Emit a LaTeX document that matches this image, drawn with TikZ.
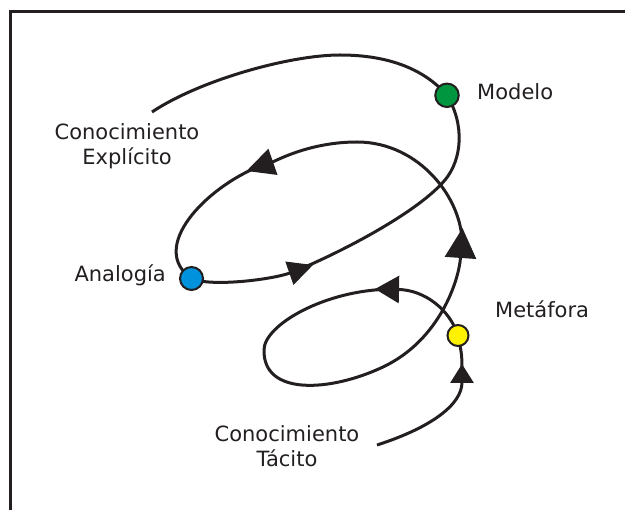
\documentclass[tikz,border=0pt]{standalone}
\usepackage{fontspec}
\setmainfont{DejaVu Sans}
\usetikzlibrary{arrows.meta,backgrounds}
\definecolor{dgreen}{RGB}{0,150,64}
\definecolor{dblue}{RGB}{0,146,221}
\definecolor{dyellow}{RGB}{255,242,0}
\definecolor{ink}{RGB}{35,31,32}
\tikzset{
  dot/.style={circle, draw=ink, line width=2pt, inner sep=0pt},
  spir/.style={line width=3pt, draw=ink},
  lbl/.style={inner sep=0pt, text=ink, font={\fontsize{21}{25.5}\selectfont}},
}
\begin{document}
\begin{tikzpicture}[x=1pt,y=-1pt]
\useasboundingbox (0,0) rectangle (625,510);
% frame
\draw[line width=3.3pt, draw=ink, line join=miter] (10.8,510) -- (10.8,11.3) -- (625,11.3);
% circles
\node[dot, fill=dgreen, minimum size=23.5pt] (mod) at (447,95.3) {};
\node[dot, fill=dblue, minimum size=23pt] (ana) at (191.5,278.5) {};
\node[dot, fill=dyellow, minimum size=21pt] (met) at (458,335.5) {};
% labels
\node[lbl, anchor=base west] (modl) at (477,100) {Modelo};
\node[lbl, anchor=base east] (anal) at (166,282) {Analogía};
\node[lbl, anchor=base west] (metl) at (495,318) {Metáfora};
\node[lbl, align=center, anchor=base] (expl) at (127,165) {Conocimiento\\Explícito};
\node[lbl, align=center, anchor=base] (tacl) at (287,467) {Conocimiento\\Tácito};
\coordinate (tacS) at (377,445);
\coordinate (explE) at (152,112);
\begin{scope}[on background layer]
% Tacito -> Metafora
\draw[spir, -{Triangle[length=19pt,width=23pt]}] (tacS) .. controls (430,428) and (462,405) .. (462,364);
\draw[spir] (462,375) .. controls (462,355) .. (met.center);
% Metafora -> loop
\draw[spir, -{Triangle[length=24pt,width=27pt]}] (met.center) .. controls (450,310) and (425,290) .. (375,289);
\draw[spir, -{Triangle[length=30pt,width=31pt]}] (390,289.2) .. controls (325,290) and (264,325) .. (264,350)
   .. controls (263,396) and (330,392) .. (383,367)
   .. controls (440,340) and (459,280) .. (462.5,228);
% up and over to the left
\draw[spir, -{Triangle[length=28pt,width=27pt]}] (462,244) .. controls (463,200) and (420,142) .. (357,142)
   .. controls (310,142) and (277,160.4) .. (246.5,171);
\draw[spir] (260,166) .. controls (205,188) and (148,248) .. (ana.center);
% Analogia -> Modelo
\draw[spir, -{Triangle[length=25pt,width=24pt]}] (ana.center) .. controls (210,287) and (270,280) .. (313,265);
\draw[spir] (298,270) .. controls (350,248) and (420,210) .. (445,180)
   .. controls (462,159.5) and (465,125) .. (mod.center);
% Modelo -> Conocimiento Explicito
\draw[spir] (mod.center) .. controls (425,70) and (390,55) .. (340,55)
   .. controls (290,55) and (200,80) .. (explE);
\end{scope}
\end{tikzpicture}
\end{document}
